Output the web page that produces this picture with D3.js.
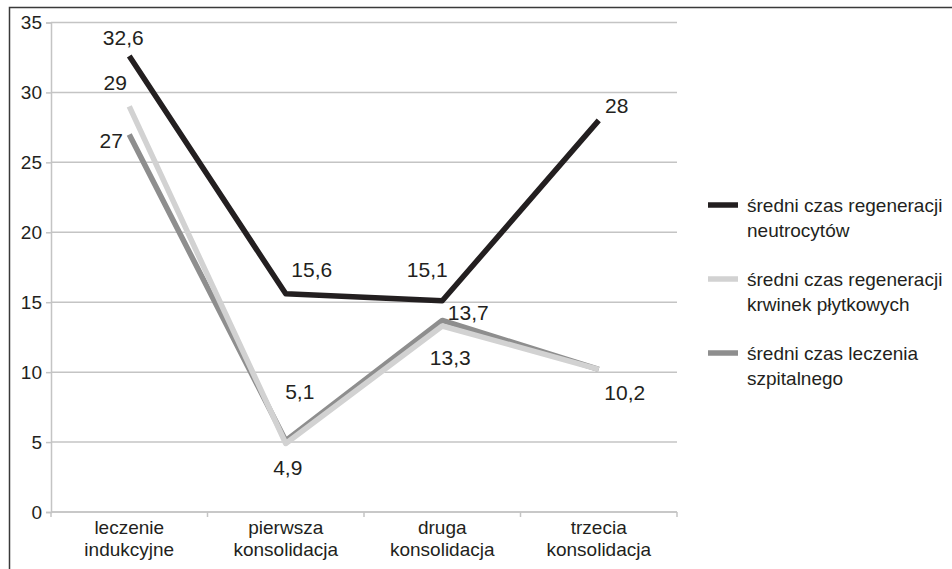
<!DOCTYPE html>
<html>
<head>
<meta charset="utf-8">
<script src="https://cdn.jsdelivr.net/npm/d3@7"></script>
<style>
  html, body { margin: 0; padding: 0; background: #fff; }
  svg { display: block; font-family: "Liberation Sans", Arial, sans-serif; }
</style>
</head>
<body>
<svg id="chart" width="952" height="569"></svg>
<script>
// Treatment phases (two-line category labels)
const categories = ["leczenie indukcyjne", "pierwsza konsolidacja", "druga konsolidacja", "trzecia konsolidacja"];
const categoryLines = [["leczenie", "indukcyjne"], ["pierwsza", "konsolidacja"], ["druga", "konsolidacja"], ["trzecia", "konsolidacja"]];

// Series values (days)
const neutrocyty = [32.6, 15.6, 15.1, 28];
const plytki = [29, 4.9, 13.3, 10.2];
const szpital = [27, 5.1, 13.7, 10.2];

const seriesNames = [
  ["średni czas regeneracji", "neutrocytów"],
  ["średni czas regeneracji", "krwinek płytkowych"],
  ["średni czas leczenia", "szpitalnego"]
];
const yTicks = [0, 5, 10, 15, 20, 25, 30, 35];

// Label placement relative to each point [dx, dy]; null = no label
const labelOffsets = [
  [[-6, -18], [26, -24], [-15, -31], [18, -15]],
  [[-14, -24], [2, 24], [8, 32], [26, 23]],
  [[-18, 6], [14, -49], [26, -8], null]
];

const colors = ["#231f20", "#d2d2d2", "#8e8e8e"];
const seriesValues = [neutrocyty, plytki, szpital];

const svg = d3.select("#chart");
const fmt = v => String(v).replace(".", ",");

// outer frame
svg.append("rect")
  .attr("x", 9.5).attr("y", 7.5)
  .attr("width", 980).attr("height", 600)
  .attr("fill", "#fff")
  .attr("stroke", "#3a3a3a").attr("stroke-width", 1.5);

const x = d3.scaleBand().domain(categories).range([51, 677]).padding(0);
const y = d3.scaleLinear().domain([0, 35]).range([512, 22.5]);

// gridlines
svg.append("g").selectAll("line").data(yTicks).join("line")
  .attr("x1", 51).attr("x2", 677)
  .attr("y1", d => y(d)).attr("y2", d => y(d))
  .attr("stroke", "#c4c4c4").attr("stroke-width", 1.5);

// y axis
const yAxis = svg.append("g").attr("transform", "translate(51,0)")
  .call(d3.axisLeft(y).tickValues(yTicks).tickSize(5).tickPadding(4).tickFormat(d => d));
yAxis.select(".domain").attr("stroke", "#c4c4c4").attr("stroke-width", 1.5);
yAxis.selectAll(".tick line").attr("stroke", "#c4c4c4").attr("stroke-width", 1.5);
yAxis.selectAll(".tick text").attr("font-size", 19).attr("fill", "#231f20")
  .attr("font-family", "Liberation Sans, Arial, sans-serif");

// x axis: ticks at band boundaries
const xAxisG = svg.append("g").attr("transform", `translate(0,${y(0)})`);
const bounds = categories.map(c => x(c)).concat([x(categories[categories.length - 1]) + x.bandwidth()]);
xAxisG.selectAll("line.tk").data(bounds).join("line")
  .attr("x1", d => d).attr("x2", d => d).attr("y1", 0).attr("y2", 5)
  .attr("stroke", "#c4c4c4").attr("stroke-width", 1.5);
xAxisG.append("line").attr("x1", 51).attr("x2", 677)
  .attr("stroke", "#c4c4c4").attr("stroke-width", 1.5);
const catText = xAxisG.selectAll("text").data(categories).join("text")
  .attr("x", d => x(d) + x.bandwidth() / 2)
  .attr("text-anchor", "middle").attr("font-size", 19).attr("fill", "#231f20");
catText.each(function(d, i) {
  d3.select(this).selectAll("tspan").data(categoryLines[i]).join("tspan")
    .attr("x", x(d) + x.bandwidth() / 2)
    .attr("y", (t, j) => 22 + j * 22)
    .text(t => t);
});

// lines (dark gray first, light gray above it, black on top)
const line = d3.line()
  .x((d, i) => x(categories[i]) + x.bandwidth() / 2)
  .y(d => y(d));
[2, 1, 0].forEach(s => {
  svg.append("path").datum(seriesValues[s])
    .attr("d", line)
    .attr("fill", "none")
    .attr("stroke", colors[s])
    .attr("stroke-width", 5.5)
    .attr("stroke-linejoin", "round")
    .attr("stroke-linecap", "butt");
});

// data labels
seriesValues.forEach((vals, s) => {
  vals.forEach((v, i) => {
    const off = labelOffsets[s][i];
    if (!off) return;
    svg.append("text")
      .attr("x", x(categories[i]) + x.bandwidth() / 2 + off[0])
      .attr("y", y(v) + off[1])
      .attr("dy", "0.35em")
      .attr("text-anchor", "middle")
      .attr("font-size", 21)
      .attr("fill", "#231f20")
      .text(fmt(v));
  });
});

// legend
const legend = svg.append("g");
const legendY = [205, 279, 353];
seriesNames.forEach((lines, s) => {
  const g = legend.append("g").attr("transform", `translate(0,${legendY[s]})`);
  g.append("line").attr("x1", 708).attr("x2", 738).attr("y1", 0).attr("y2", 0)
    .attr("stroke", colors[s]).attr("stroke-width", 5.5);
  const t = g.append("text").attr("font-size", 19).attr("fill", "#231f20");
  lines.forEach((txt, j) => {
    t.append("tspan").attr("x", 747).attr("y", j * 25).attr("dy", "0.35em").text(txt);
  });
});
</script>
</body>
</html>
